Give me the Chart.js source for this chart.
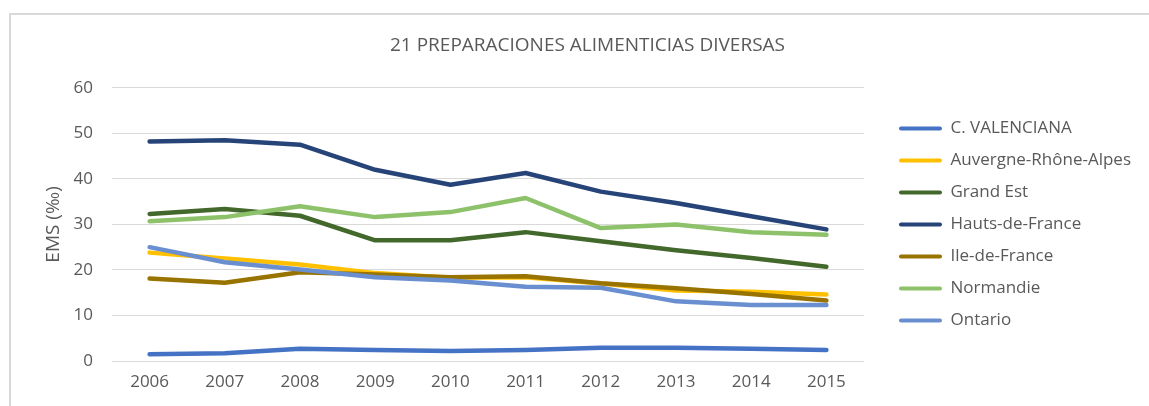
<!DOCTYPE html>
<html>
<head>
<meta charset="utf-8">
<script src="https://cdn.jsdelivr.net/npm/chart.js@4/dist/chart.umd.min.js"></script>
<style>
  html, body { margin: 0; padding: 0; background: #fff; }
  .wrap { position: relative; width: 1149px; height: 406px; }
  .frame { position: absolute; left: 9px; top: 13px; right: -5px; bottom: -5px;
           border-left: 2px solid #d9d9d9; border-top: 2px solid #d9d9d9; pointer-events: none; }
  canvas { position: absolute; left: 0; top: 0; }
</style>
</head>
<body>
<div class="wrap">
  <canvas id="chart" width="1149" height="406"></canvas>
  <div class="frame"></div>
</div>
<script>
const years = ['2006', '2007', '2008', '2009', '2010', '2011', '2012', '2013', '2014', '2015'];

const regions = ['C. VALENCIANA', 'Auvergne-Rhône-Alpes', 'Grand Est', 'Hauts-de-France',
                 'Ile-de-France', 'Normandie', 'Ontario'];

const valenciana = [1.5, 1.7, 2.7, 2.4, 2.2, 2.4, 2.9, 2.9, 2.7, 2.4];
const auvergne   = [23.8, 22.5, 21.2, 19.3, 18.3, 18.4, 17.0, 15.5, 15.2, 14.6];
const grandEst   = [32.3, 33.4, 31.9, 26.5, 26.5, 28.3, 26.3, 24.3, 22.6, 20.7];
const hauts      = [48.2, 48.5, 47.5, 42.0, 38.7, 41.3, 37.2, 34.7, 31.8, 28.9];
const ileFrance  = [18.1, 17.2, 19.5, 19.0, 18.4, 18.6, 17.1, 16.0, 14.7, 13.3];
const normandie  = [30.7, 31.6, 34.0, 31.6, 32.7, 35.8, 29.2, 30.0, 28.3, 27.7];
const ontario    = [25.0, 21.7, 20.1, 18.4, 17.7, 16.3, 16.1, 13.1, 12.3, 12.3];

const yTicks = [0, 10, 20, 30, 40, 50, 60];

const seriesValues = [valenciana, auvergne, grandEst, hauts, ileFrance, normandie, ontario];
const colors = ['#4472c4', '#ffc000', '#43682b', '#264478', '#997300', '#8dc26b', '#6a8fd1'];

const textColor = '#595959';
const fontFamily = "'Open Sans', 'Liberation Sans', sans-serif";

let datasets = regions.map((name, i) => ({
    label: name,
    data: seriesValues[i],
    borderColor: colors[i],
    backgroundColor: colors[i],
    borderWidth: 4.5,
    borderCapStyle: 'round',
    borderJoinStyle: 'round',
    pointRadius: 0,
    pointHoverRadius: 0,
    tension: 0,
    order: regions.length - 1 - i   // later series on top, like the original
}));

const ctx = document.getElementById('chart').getContext('2d');
new Chart(ctx, {
    type: 'line',
    data: { labels: years, datasets: datasets },
    options: {
        responsive: false,
        animation: false,
        layout: { padding: { left: 34, right: 8, top: 0, bottom: 0 } },
        plugins: {
            title: {
                display: true,
                text: '21 PREPARACIONES ALIMENTICIAS DIVERSAS',
                color: textColor,
                font: { family: fontFamily, size: 19, weight: 'normal' },
                padding: { top: 34, bottom: 31 }
            },
            legend: {
                position: 'right',
                fullSize: false,
                maxWidth: 320,
                labels: {
                    color: textColor,
                    font: { family: fontFamily, size: 17 },
                    boxWidth: 43,
                    boxHeight: 4,
                    padding: 15,
                    useBorderRadius: true,
                    borderRadius: 2,
                    sort: (a, b) => a.datasetIndex - b.datasetIndex,
                    generateLabels: chart => {
                        let items = Chart.defaults.plugins.legend.labels.generateLabels(chart);
                        return items.map(it => Object.assign(it, { lineWidth: 0 }));
                    }
                }
            },
            tooltip: { enabled: false }
        },
        scales: {
            x: {
                offset: true,
                grid: { display: false, drawTicks: false },
                border: { display: false },
                ticks: { color: textColor, font: { family: fontFamily, size: 17 }, padding: 11 },
                afterFit: s => { s.height = 45; }
            },
            y: {
                min: 0,
                max: 60,
                grid: { color: '#d9d9d9', lineWidth: 1, drawTicks: false },
                border: { display: false },
                afterBuildTicks: s => { s.ticks = yTicks.map(v => ({ value: v })); },
                ticks: { color: textColor, font: { family: fontFamily, size: 17 }, padding: 19 },
                title: {
                    display: true,
                    text: 'EMS (‰)',
                    color: textColor,
                    font: { family: fontFamily, size: 19 },
                    padding: { top: 8, bottom: 0 }
                },
                afterFit: s => { s.width = 78; }
            },
            gap: {
                position: 'right',
                display: true,
                grid: { display: false, drawTicks: false },
                border: { display: false },
                ticks: { display: false },
                afterFit: s => { s.width = 20; }
            }
        }
    }
});
</script>
</body>
</html>
